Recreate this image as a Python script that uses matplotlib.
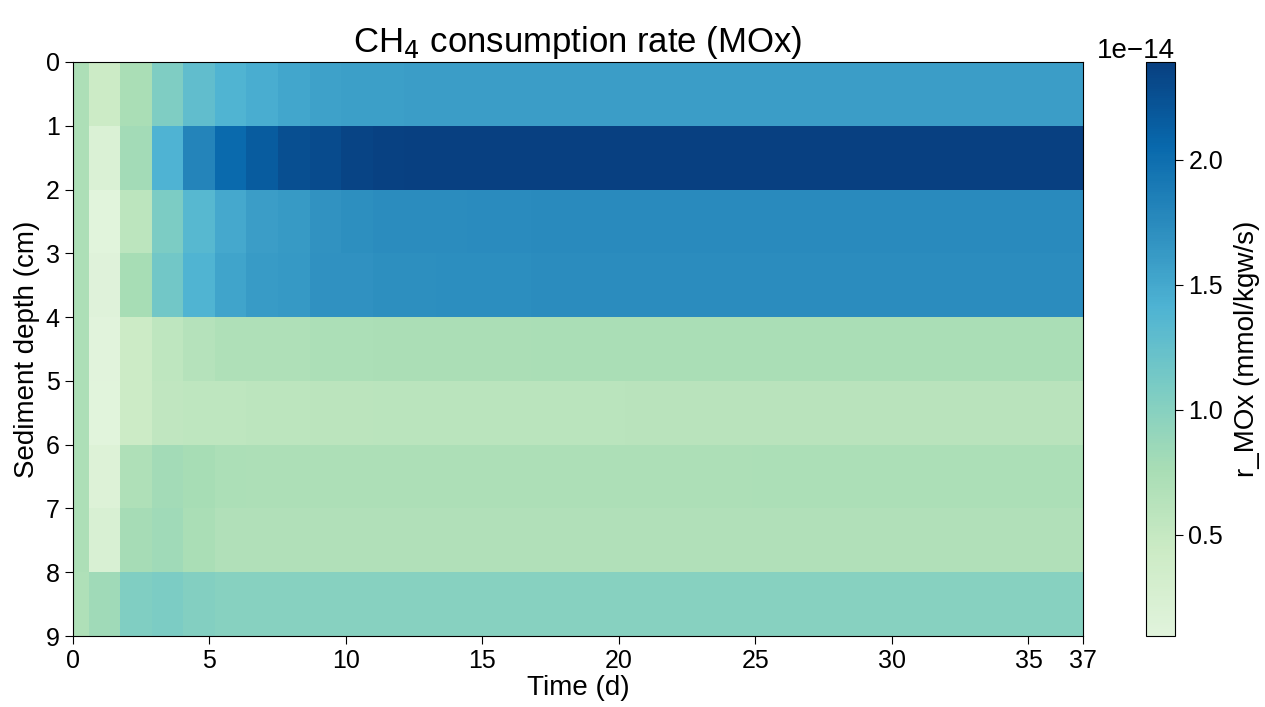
import numpy as np
import matplotlib
matplotlib.use('Agg')
import matplotlib.pyplot as plt
from matplotlib.colors import ListedColormap

plt.rcParams['font.family'] = ['Liberation Sans', 'DejaVu Sans']

# time axis (d) and layer centres (cm)
time_d = np.linspace(0, 37, 33)
depth_cm = [0.5, 1.5, 2.5, 3.5, 4.5, 5.5, 6.5, 7.5, 8.5]

# r_MOx per layer, in units of 1e-14 mmol/kgw/s
r_0_1 = [0.72, 0.43, 0.75, 1.06, 1.27, 1.40, 1.45, 1.52, 1.56, 1.58, 1.58,
         1.59, 1.59, 1.59, 1.59, 1.59, 1.59, 1.59, 1.59, 1.59, 1.59, 1.59,
         1.59, 1.59, 1.59, 1.59, 1.59, 1.59, 1.59, 1.59, 1.59, 1.59, 1.59]
r_1_2 = [0.72, 0.21, 0.80, 1.41, 1.80, 2.04, 2.16, 2.26, 2.29, 2.35, 2.37,
         2.38, 2.38, 2.39, 2.39, 2.39, 2.39, 2.39, 2.39, 2.39, 2.39, 2.39,
         2.39, 2.39, 2.39, 2.39, 2.39, 2.39, 2.39, 2.39, 2.39, 2.39, 2.39]
r_2_3 = [0.72, 0.096, 0.58, 1.08, 1.35, 1.50, 1.59, 1.62, 1.68, 1.71, 1.73,
         1.73, 1.73, 1.74, 1.74, 1.75, 1.75, 1.75, 1.75, 1.75, 1.75, 1.75,
         1.75, 1.75, 1.75, 1.75, 1.75, 1.75, 1.75, 1.75, 1.75, 1.75, 1.75]
r_3_4 = [0.72, 0.14, 0.76, 1.15, 1.40, 1.54, 1.61, 1.63, 1.70, 1.70, 1.71,
         1.71, 1.72, 1.72, 1.72, 1.73, 1.73, 1.73, 1.73, 1.73, 1.73, 1.73,
         1.73, 1.73, 1.73, 1.73, 1.73, 1.73, 1.73, 1.73, 1.73, 1.73, 1.73]
r_4_5 = [0.72, 0.11, 0.43, 0.57, 0.65, 0.70, 0.70, 0.70, 0.73, 0.73, 0.74,
         0.74, 0.74, 0.74, 0.74, 0.75, 0.75, 0.75, 0.75, 0.75, 0.75, 0.75,
         0.75, 0.75, 0.75, 0.75, 0.75, 0.75, 0.75, 0.75, 0.75, 0.75, 0.75]
r_5_6 = [0.72, 0.10, 0.43, 0.55, 0.57, 0.57, 0.58, 0.58, 0.59, 0.59, 0.60,
         0.60, 0.60, 0.60, 0.60, 0.60, 0.60, 0.60, 0.61, 0.61, 0.61, 0.61,
         0.61, 0.61, 0.61, 0.61, 0.61, 0.61, 0.61, 0.61, 0.61, 0.61, 0.61]
r_6_7 = [0.72, 0.17, 0.69, 0.80, 0.76, 0.73, 0.72, 0.72, 0.72, 0.72, 0.72,
         0.72, 0.72, 0.72, 0.72, 0.72, 0.72, 0.72, 0.72, 0.72, 0.72, 0.72,
         0.73, 0.73, 0.73, 0.73, 0.73, 0.73, 0.73, 0.73, 0.73, 0.73, 0.73]
r_7_8 = [0.72, 0.24, 0.78, 0.82, 0.75, 0.68, 0.68, 0.68, 0.68, 0.68, 0.68,
         0.68, 0.68, 0.68, 0.68, 0.68, 0.68, 0.68, 0.68, 0.68, 0.68, 0.68,
         0.68, 0.68, 0.68, 0.68, 0.68, 0.68, 0.68, 0.68, 0.68, 0.68, 0.68]
r_8_9 = [0.70, 0.82, 1.05, 1.08, 1.03, 1.01, 1.01, 1.01, 1.01, 1.01, 1.01,
         1.01, 1.01, 1.01, 1.01, 1.01, 1.01, 1.01, 1.01, 1.01, 1.01, 1.01,
         1.01, 1.01, 1.01, 1.01, 1.01, 1.01, 1.01, 1.01, 1.01, 1.01, 1.01]

rate = np.array([r_0_1, r_1_2, r_2_3, r_3_4, r_4_5, r_5_6, r_6_7, r_7_8, r_8_9]) * 1e-14

# GnBu without its near-white end
cmap = ListedColormap(plt.get_cmap('GnBu')(np.linspace(0.12, 1.0, 256)))

fig = plt.figure(figsize=(12.65, 7.07), dpi=100)
ax = fig.add_axes([0.0575, 0.1004, 0.7987, 0.812])
cax = fig.add_axes([0.906, 0.1004, 0.0229, 0.812])

mesh = ax.pcolormesh(time_d, depth_cm, rate, cmap=cmap, shading='nearest')
ax.set_xlim(0, 37)
ax.set_ylim(9, 0)
ax.set_xticks([0, 5, 10, 15, 20, 25, 30, 35, 37])
ax.set_yticks(range(10))
ax.tick_params(labelsize=18, length=6)
ax.set_xlabel('Time (d)', fontsize=20, labelpad=1)
ax.set_ylabel('Sediment depth (cm)', fontsize=20, labelpad=4)
ax.set_title('CH$_4$ consumption rate (MOx)', fontsize=25, pad=7)

cb = fig.colorbar(mesh, cax=cax)
cb.set_label('r_MOx (mmol/kgw/s)', fontsize=20, labelpad=8)
cb.ax.tick_params(labelsize=18, length=6)
cb.ax.yaxis.get_offset_text().set_fontsize(20)

fig.savefig('out.png', dpi=100)
